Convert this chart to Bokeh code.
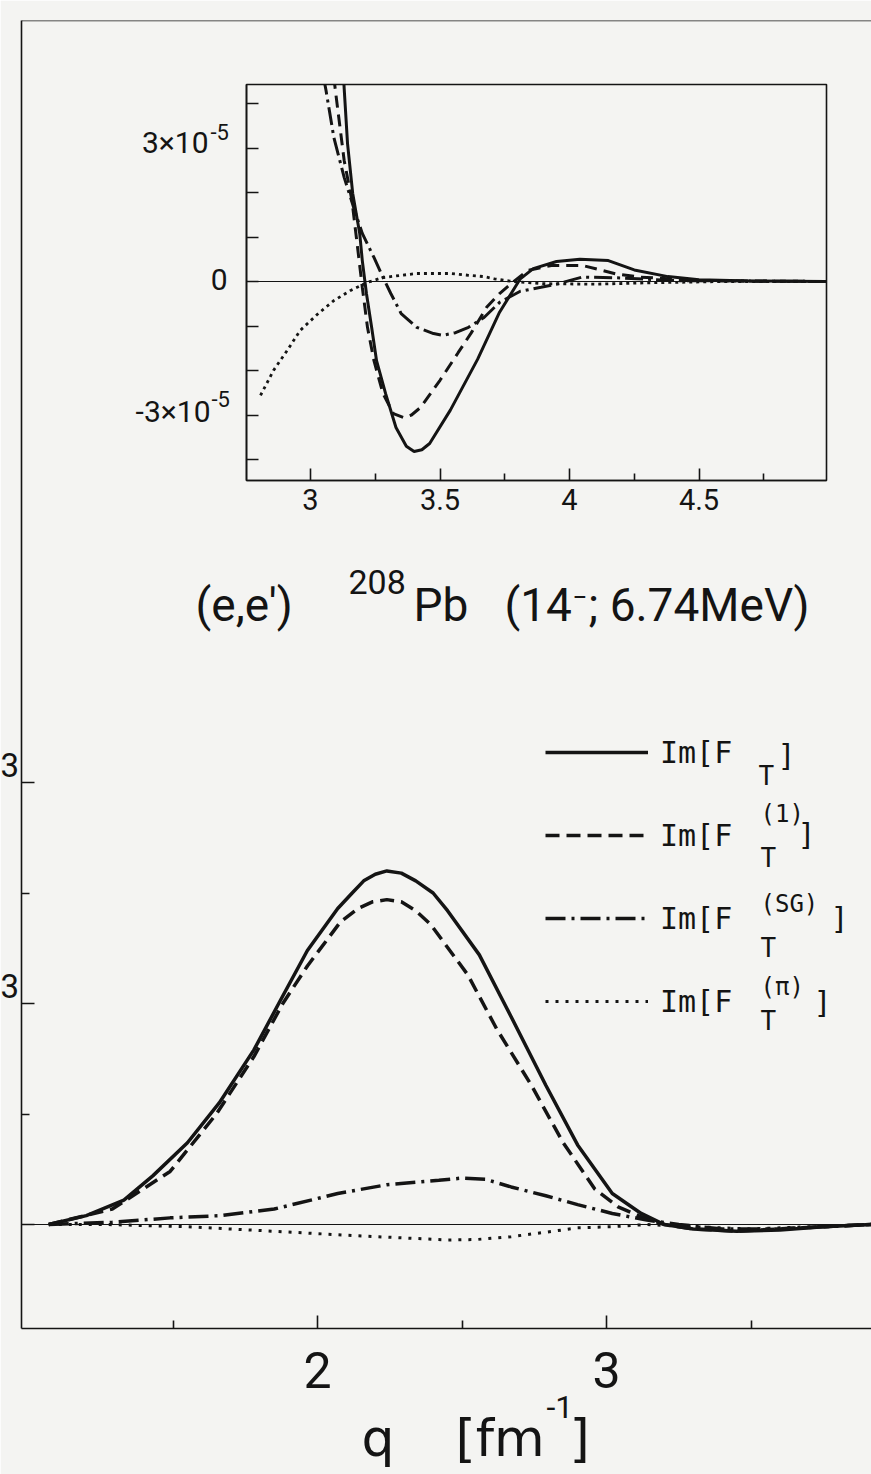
from bokeh.plotting import figure
from bokeh.models import (Range1d, FixedTicker, Span, Label, Legend, LegendItem,
                          CustomLabelingPolicy)
from bokeh.core.properties import value
from bokeh.embed import file_html
from bokeh.resources import INLINE

# ---------------- data: main panel (q in fm^-1, Im[F] in units of 1e-3) ----------------
q_ft = [1.07, 1.20, 1.33, 1.43, 1.55, 1.66, 1.78, 1.87, 1.965, 2.07, 2.12, 2.16, 2.20, 2.24,
        2.29, 2.34, 2.40, 2.45, 2.56, 2.67, 2.79, 2.90, 3.02, 3.12, 3.20, 3.30, 3.45, 3.60, 3.75, 3.92]
im_ft = [0.0, 0.04, 0.11, 0.22, 0.37, 0.55, 0.79, 1.01, 1.24, 1.43, 1.50, 1.555, 1.585, 1.60,
         1.59, 1.555, 1.50, 1.42, 1.22, 0.94, 0.63, 0.36, 0.14, 0.05, 0.0, -0.02, -0.03, -0.025, -0.01, 0.0]

q_f1 = [1.07, 1.29, 1.49, 1.65, 1.78, 1.88, 1.965, 2.08, 2.14, 2.19, 2.24, 2.29, 2.34, 2.39,
        2.52, 2.62, 2.74, 2.85, 2.96, 3.04, 3.12, 3.20, 3.30, 3.45, 3.60, 3.75, 3.92]
im_f1 = [0.0, 0.07, 0.24, 0.50, 0.76, 1.0, 1.17, 1.37, 1.43, 1.46, 1.47, 1.46, 1.42, 1.36,
         1.13, 0.885, 0.63, 0.37, 0.16, 0.08, 0.035, 0.0, -0.02, -0.03, -0.02, -0.01, 0.0]

q_sg = [1.07, 1.29, 1.49, 1.66, 1.85, 2.07, 2.24, 2.42, 2.50, 2.58, 2.67, 2.79, 2.90, 3.02,
        3.14, 3.25, 3.40, 3.60, 3.75, 3.92]
im_sg = [0.0, 0.01, 0.03, 0.04, 0.07, 0.14, 0.18, 0.20, 0.21, 0.205, 0.17, 0.13, 0.09, 0.05,
         0.02, 0.0, -0.02, -0.02, -0.01, 0.0]

q_pi = [1.07, 1.27, 1.55, 1.84, 2.12, 2.45, 2.55, 2.67, 2.79, 2.90, 3.02, 3.14, 3.30, 3.50, 3.70, 3.92]
im_pi = [0.0, 0.0, -0.01, -0.03, -0.05, -0.07, -0.068, -0.055, -0.035, -0.015, -0.01, 0.0,
         -0.01, -0.02, -0.01, 0.0]

# ---------------- data: inset (Im[F] in units of 1e-5) ----------------
qi_ft = [3.125, 3.13, 3.143, 3.163, 3.19, 3.20, 3.216, 3.236, 3.255, 3.29, 3.33, 3.37, 3.40, 3.43,
         3.46, 3.54, 3.645, 3.73, 3.81, 3.86, 3.95, 4.04, 4.15, 4.25, 4.38, 4.50, 4.70, 4.99]
ii_ft = [4.9, 4.34, 3.1, 1.98, 1.08, 0.47, -0.27, -1.03, -1.78, -2.52, -3.28, -3.70, -3.82, -3.78,
         -3.64, -2.89, -1.75, -0.69, 0.06, 0.29, 0.45, 0.50, 0.47, 0.26, 0.11, 0.04, 0.01, 0.0]

qi_f1 = [3.09, 3.097, 3.13, 3.16, 3.18, 3.20, 3.22, 3.245, 3.28, 3.32, 3.36, 3.39, 3.425, 3.50,
         3.57, 3.62, 3.68, 3.73, 3.78, 3.84, 3.93, 4.05, 4.18, 4.27, 4.50, 4.99]
ii_f1 = [4.6, 4.25, 2.72, 1.82, 0.85, -0.13, -1.03, -1.78, -2.52, -2.97, -3.06, -3.0, -2.83, -2.22,
         -1.6, -1.16, -0.58, -0.27, -0.02, 0.25, 0.36, 0.36, 0.17, 0.10, 0.02, 0.0]

qi_sg = [3.05, 3.06, 3.09, 3.13, 3.17, 3.20, 3.245, 3.28, 3.31, 3.35, 3.41, 3.475, 3.51, 3.56,
         3.61, 3.67, 3.73, 3.81, 3.89, 3.95, 4.05, 4.20, 4.40, 4.99]
ii_sg = [4.6, 4.29, 3.24, 2.34, 1.6, 1.08, 0.54, 0.09, -0.27, -0.72, -1.03, -1.17, -1.21, -1.15,
         -1.03, -0.81, -0.47, -0.22, -0.13, -0.06, 0.10, 0.08, 0.02, 0.0]

qi_pi = [2.807, 2.857, 2.91, 2.96, 3.03, 3.09, 3.155, 3.22, 3.28, 3.41, 3.54, 3.61, 3.67, 3.71,
         3.78, 3.90, 4.10, 4.30, 4.60, 4.99]
ii_pi = [-2.56, -2.0, -1.55, -1.1, -0.72, -0.43, -0.2, -0.02, 0.09, 0.18, 0.18, 0.14, 0.11, 0.06,
         0.0, -0.05, -0.06, -0.03, 0.0, 0.0]

main_xticks = [2, 3, 4]
main_xminor = [1.5, 2.5, 3.5]
main_yticks = [0, 1e-3, 2e-3]
main_yminor = [0.5e-3, 1.5e-3]
inset_xticks = [3, 3.5, 4, 4.5]
inset_xlabels = ["3", "3.5", "4", "4.5"]
inset_xminor = [3.25, 3.75, 4.25, 4.75]
inset_yticks = [-4e-5, -3e-5, -2e-5, -1e-5, 0, 1e-5, 2e-5, 3e-5, 4e-5]

legend_labels = ["Im[F", "Im[F", "Im[F", "Im[F"]
legend_sups = ["", "(1)", "(SG)", "(\u03c0)"]

# ---------------- styling ----------------
BG = "#f4f4f2"
INK = "#141414"
SANS = "Roboto"
MONO = "DejaVu Sans Mono"
WIDE = "DejaVu Sans"
W, H = 871, 1474

# main frame geometry (page pixels) used to set ranges
FL, FT, FB, FR = 21, 20, 1328, 871
ZERO, PXY, PXQ, Q2 = 1224, 221.0, 289.0, 317
x0 = 2 - (Q2 - FL) / PXQ
x1 = 2 + (FR - Q2) / PXQ
y1 = (ZERO - FT) / PXY * 1e-3
y0 = -(FB - ZERO) / PXY * 1e-3

hide_labels = "for (let i = 0; i < indices.size; i++) { indices.unset(i) }\nreturn indices"


def style_axis(ax, tin, tmin):
    ax.axis_line_color = INK
    ax.axis_line_width = 1.6
    ax.major_tick_line_color = INK
    ax.minor_tick_line_color = INK
    ax.major_tick_line_width = 1.6
    ax.minor_tick_line_width = 1.6
    ax.major_tick_in = tin
    ax.major_tick_out = 0
    ax.minor_tick_in = tmin
    ax.minor_tick_out = 0


p = figure(width=W, height=H, x_range=Range1d(x0, x1), y_range=Range1d(y0, y1),
           output_backend="svg", toolbar_location=None,
           min_border_left=FL, min_border_right=0, min_border_top=FT,
           min_border_bottom=H - FB)
p.background_fill_color = BG
p.border_fill_color = BG
p.outline_line_color = None
p.grid.grid_line_color = None
style_axis(p.xaxis[0], 13, 8)
style_axis(p.yaxis[0], 13, 8)

p.xaxis.ticker = FixedTicker(ticks=main_xticks, minor_ticks=main_xminor)
p.xaxis.major_label_overrides = {t: str(t) for t in main_xticks}
p.xaxis.major_label_text_font = SANS
p.xaxis.major_label_text_font_size = "50px"
p.xaxis.major_label_text_color = INK
p.xaxis.major_label_standoff = 23

p.yaxis.ticker = FixedTicker(ticks=main_yticks, minor_ticks=main_yminor)
p.yaxis.major_label_text_font_size = "0px"
p.yaxis.major_label_standoff = 0
p.yaxis.major_label_policy = CustomLabelingPolicy(code=hide_labels)

p.add_layout(Span(location=y1, dimension="width", line_color=INK, line_width=1.6))
p.add_layout(Span(location=0, dimension="width", line_color=INK, line_width=1.2))

r_ft = p.line(q_ft, [v * 1e-3 for v in im_ft], line_color=INK, line_width=3.5)
r_f1 = p.line(q_f1, [v * 1e-3 for v in im_f1], line_color=INK, line_width=3.5, line_dash="14 7")
r_sg = p.line(q_sg, [v * 1e-3 for v in im_sg], line_color=INK, line_width=3.5, line_dash="20 6 3 6")
r_pi = p.line(q_pi, [v * 1e-3 for v in im_pi], line_color=INK, line_width=3, line_dash="3 7")

legend = Legend(items=[LegendItem(label=value(t), renderers=[r])
                       for t, r in zip(legend_labels, [r_ft, r_f1, r_sg, r_pi])],
                location=(545 - FL, FB - 1021), glyph_width=103, glyph_height=40,
                label_height=40, label_standoff=12, spacing=43, padding=0, margin=0,
                border_line_color=None, background_fill_alpha=0,
                label_text_font=MONO, label_text_font_size="30px", label_text_color=INK)
p.add_layout(legend)

# ---------------- inset ----------------
IL, IR, IT, IB, IZ, IPY, IQ3, IPQ = 246, 826, 84, 480, 281, 44.5, 310, 259.0
ix0 = 3 - (IQ3 - IL) / IPQ
ix1 = 3 + (IR - IQ3) / IPQ
iy1 = (IZ - IT) / IPY * 1e-5
iy0 = -(IB - IZ) / IPY * 1e-5
CL, CT, CR, CB = 238, 80, 830, 532

ins = figure(width=CR - CL, height=CB - CT, x_range=Range1d(ix0, ix1), y_range=Range1d(iy0, iy1),
             output_backend="svg", toolbar_location=None,
             min_border_left=IL - CL, min_border_right=CR - IR, min_border_top=IT - CT,
             min_border_bottom=CB - IB)
ins.margin = (CT - H, 0, 0, CL)
ins.background_fill_color = BG
ins.border_fill_color = None
ins.outline_line_color = INK
ins.outline_line_width = 1.6
ins.grid.grid_line_color = None
style_axis(ins.xaxis[0], 12, 7)
style_axis(ins.yaxis[0], 12, 7)
ins.xaxis.ticker = FixedTicker(ticks=inset_xticks, minor_ticks=inset_xminor)
ins.xaxis.major_label_overrides = dict(zip(inset_xticks, inset_xlabels))
ins.xaxis.major_label_text_font = SANS
ins.xaxis.major_label_text_font_size = "29px"
ins.xaxis.major_label_text_color = INK
ins.xaxis.major_label_standoff = 8
ins.yaxis.ticker = FixedTicker(ticks=inset_yticks, minor_ticks=[])
ins.yaxis.major_label_text_font_size = "0px"
ins.yaxis.major_label_standoff = 0
ins.yaxis.major_label_policy = CustomLabelingPolicy(code=hide_labels)

ins.add_layout(Span(location=0, dimension="width", line_color=INK, line_width=1.2))
ins.line(qi_ft, [v * 1e-5 for v in ii_ft], line_color=INK, line_width=3)
ins.line(qi_f1, [v * 1e-5 for v in ii_f1], line_color=INK, line_width=3, line_dash="12 7")
ins.line(qi_sg, [v * 1e-5 for v in ii_sg], line_color=INK, line_width=3, line_dash="18 5 3 5")
ins.line(qi_pi, [v * 1e-5 for v in ii_pi], line_color=INK, line_width=2.8, line_dash="3 4")

# ---------------- text layer (page-pixel coordinates) ----------------
ov = figure(width=W, height=H, x_range=Range1d(0, W), y_range=Range1d(H, 0),
            output_backend="svg", toolbar_location=None, x_axis_location=None,
            y_axis_location=None, min_border_left=0, min_border_right=0,
            min_border_top=0, min_border_bottom=0)
ov.margin = (-CB, 0, 0, 0)
ov.outline_line_color = None
ov.background_fill_color = None
ov.border_fill_color = None
ov.grid.visible = False

BASE_SHIFT = 0.38  # rendered alphabetic baseline sits ~0.38 em below the anchor


def lab(x, baseline, text, size, font, align="left"):
    ov.add_layout(Label(x=x, y=baseline - BASE_SHIFT * size, text=text, text_font=font,
                        text_font_size=f"{size}px", text_color=INK, text_align=align,
                        text_baseline="alphabetic"))


# title
lab(195, 622, "(e,e\u2032)", 46, SANS)
lab(348, 594, "208", 34, SANS)
lab(413, 622, "Pb", 46, SANS)
lab(504, 622, "(14", 46, SANS)
lab(572, 606, "\u2212", 26, SANS)
lab(588, 622, "; 6.74MeV)", 46, SANS)

# legend sub/superscripts and closing brackets
legend_extra = [
    ("T", 758, 785, 26), ("]", 777, 766, 30),
    (legend_sups[1], 760, 823, 24), ("T", 760, 867, 26), ("]", 797, 845, 30),
    (legend_sups[2], 760, 913, 24), ("T", 760, 957, 26), ("]", 830, 929, 30),
    (legend_sups[3], 760, 996, 24), ("T", 760, 1030, 26), ("]", 813, 1013, 30),
]
for t, px, py, sz in legend_extra:
    lab(px, py, t, sz, MONO)

# x-axis title q [fm^-1]
lab(361, 1457, "q", 52, WIDE)
lab(455, 1457, "[fm", 52, WIDE)
lab(546, 1419, "-1", 32, SANS)
lab(569, 1457, "]", 52, WIDE)

# main y tick-label exponents (the mantissas lie beyond the page edge)
lab(0, 777, "3", 33, SANS)
lab(0, 998, "3", 33, SANS)

# inset y tick labels
lab(208, 153, "3\u00d710", 30, SANS, align="right")
lab(210, 140, "-5", 22, SANS)
lab(227, 290, "0", 30, SANS, align="right")
lab(210, 422, "-3\u00d710", 30, SANS, align="right")
lab(211, 407, "-5", 22, SANS)

open("out.html", "w").write(file_html([p, ins, ov], INLINE))
